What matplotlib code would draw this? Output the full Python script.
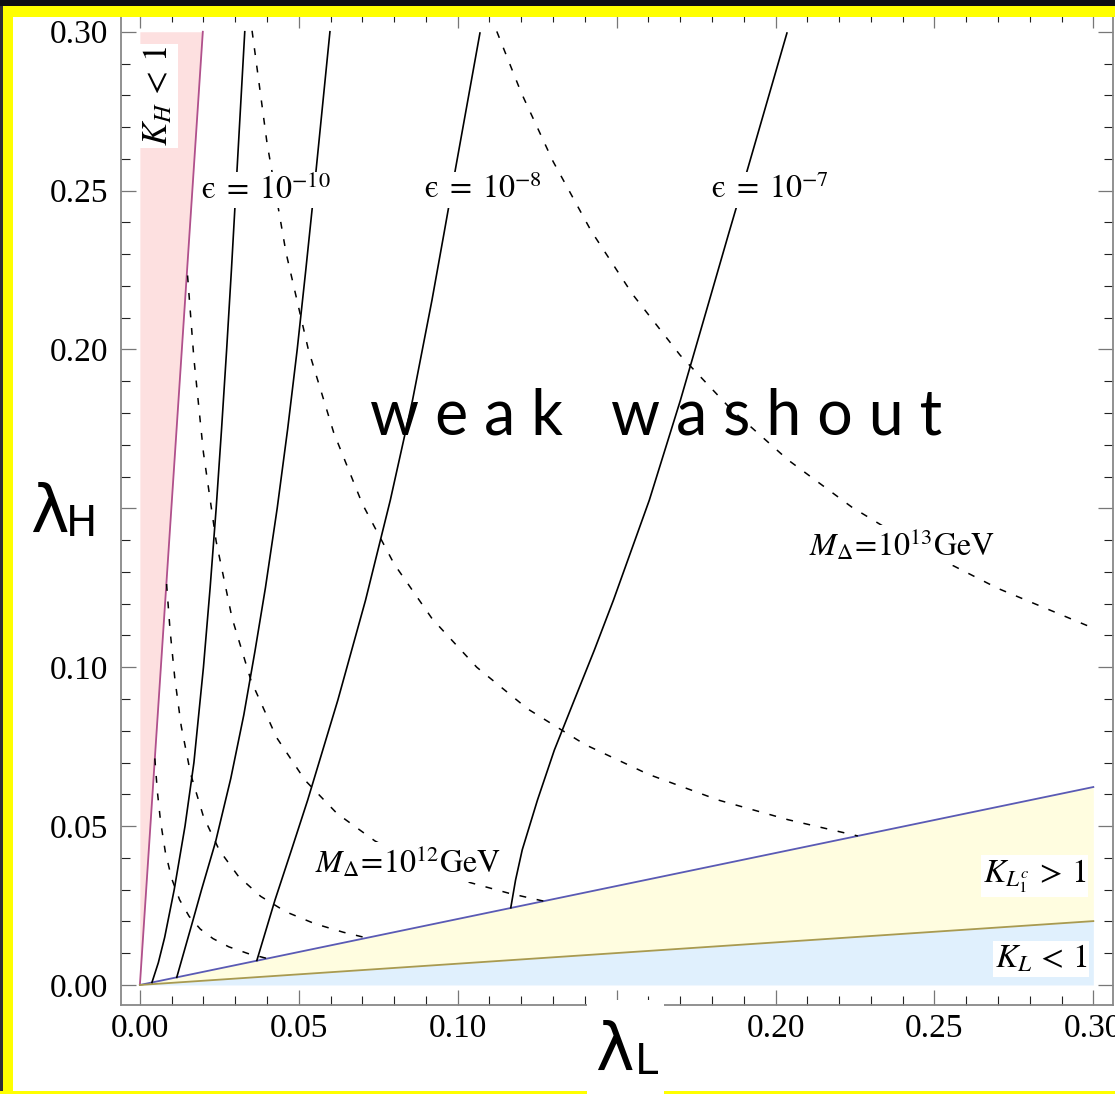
import numpy as np
import matplotlib.pyplot as plt
from matplotlib.patches import Rectangle

# K-factor boundary lines (through the origin)
kh_lam_l = [0.0, 0.0198]
kh_lam_h = [0.0, 0.30]
klc_lam_l = [0.0, 0.30]
klc_lam_h = [0.0, 0.0623]
kl_lam_l = [0.0, 0.30]
kl_lam_h = [0.0, 0.0201]

# epsilon contours (solid)
eps1_l = [0.0038, 0.0058, 0.0078, 0.0108, 0.0142, 0.0170, 0.0200, 0.0221, 0.0240, 0.0257, 0.0273, 0.0288, 0.0302, 0.0316, 0.0330]
eps1_h = [0.0008, 0.0070, 0.0150, 0.0300, 0.0500, 0.0700, 0.1000, 0.1250, 0.1500, 0.1750, 0.2000, 0.2250, 0.2500, 0.2750, 0.3000]
eps2_l = [0.0116, 0.0166, 0.0194, 0.0238, 0.0286, 0.0327, 0.0362, 0.0395, 0.0432, 0.0465, 0.0495, 0.0522, 0.0548, 0.0573, 0.0598]
eps2_h = [0.0024, 0.0200, 0.0300, 0.0450, 0.0650, 0.0850, 0.1050, 0.1250, 0.1500, 0.1750, 0.2000, 0.2250, 0.2500, 0.2750, 0.3000]
eps3_l = [0.0368, 0.0425, 0.0477, 0.0528, 0.0623, 0.0710, 0.0788, 0.0858, 0.0919, 0.0957, 0.0994, 0.1032, 0.1070]
eps3_h = [0.0077, 0.0267, 0.0425, 0.0582, 0.0897, 0.1211, 0.1526, 0.1841, 0.2155, 0.2366, 0.2574, 0.2785, 0.2996]
eps4_l = [0.1167, 0.1182, 0.1203, 0.1251, 0.1304, 0.1367, 0.1430, 0.1490, 0.1603, 0.1701, 0.1792, 0.1853, 0.1914, 0.1975, 0.2036]
eps4_h = [0.0243, 0.0330, 0.0425, 0.0582, 0.0739, 0.0897, 0.1054, 0.1211, 0.1526, 0.1841, 0.2155, 0.2366, 0.2574, 0.2785, 0.2996]
eps_labels = [r'$\mathrm{ϵ}\;=\;10^{-10}$', r'$\mathrm{ϵ}\;=\;10^{-8}$', r'$\mathrm{ϵ}\;=\;10^{-7}$']
eps_label_l = [0.0396, 0.1079, 0.1982]
eps_label_h = [0.2502, 0.2502, 0.2502]

# M_Delta contours (dashed)
m1_l = [0.0047, 0.0055, 0.0065, 0.0080, 0.0100, 0.0125, 0.0155, 0.0190, 0.0230, 0.0280, 0.0340, 0.0402]
m1_h = [0.0713, 0.0609, 0.0515, 0.0419, 0.0335, 0.0268, 0.0216, 0.0176, 0.0146, 0.0120, 0.0099, 0.0083]
m2_l = [0.0084, 0.0095, 0.0110, 0.0130, 0.0160, 0.0200, 0.0250, 0.0310, 0.0380, 0.0460, 0.0550, 0.0640, 0.0714]
m2_h = [0.1262, 0.1116, 0.0964, 0.0815, 0.0663, 0.0530, 0.0424, 0.0342, 0.0279, 0.0230, 0.0193, 0.0166, 0.0148]
m3_l = [0.0150, 0.0170, 0.0200, 0.0240, 0.0290, 0.0350, 0.0430, 0.0520, 0.0620, 0.0740, 0.0880, 0.1040, 0.1160, 0.1270]
m3_h = [0.2233, 0.1971, 0.1675, 0.1396, 0.1155, 0.0957, 0.0779, 0.0644, 0.0540, 0.0453, 0.0381, 0.0322, 0.0289, 0.0264]
m4_l = [0.0353, 0.0400, 0.0460, 0.0530, 0.0610, 0.0700, 0.0800, 0.0920, 0.1060, 0.1220, 0.1400, 0.1600, 0.1820, 0.2040, 0.2259]
m4_h = [0.3003, 0.2650, 0.2304, 0.2000, 0.1738, 0.1514, 0.1325, 0.1152, 0.1000, 0.0869, 0.0757, 0.0663, 0.0582, 0.0520, 0.0469]
m5_l = [0.1123, 0.1200, 0.1300, 0.1420, 0.1550, 0.1700, 0.1860, 0.2040, 0.2240, 0.2460, 0.2700, 0.3000]
m5_h = [0.3001, 0.2808, 0.2592, 0.2373, 0.2174, 0.1982, 0.1812, 0.1652, 0.1504, 0.1370, 0.1248, 0.1123]
m_labels = [r'$M_{\Delta}\!=\!10^{12}\mathrm{GeV}$', r'$M_{\Delta}\!=\!10^{13}\mathrm{GeV}$']
m_label_l = [0.0843, 0.2398]
m_label_h = [0.0387, 0.1385]

xticks = [0.00, 0.05, 0.10, 0.15, 0.20, 0.25, 0.30]
yticks = [0.00, 0.05, 0.10, 0.15, 0.20, 0.25, 0.30]
# the 0.15 labels sit under the axis titles in the original
xticklabels = ['0.00', '0.05', '0.10', '', '0.20', '0.25', '0.30']
yticklabels = ['0.00', '0.05', '0.10', '', '0.20', '0.25', '0.30']

W, H = 1115, 1094


def fx(px):
    return px / W


def fy(py):
    return 1 - py / H


plt.rcParams['font.family'] = ['Liberation Serif', 'DejaVu Serif']
plt.rcParams['mathtext.fontset'] = 'stix'

fig = plt.figure(figsize=(W / 100, H / 100), dpi=100)
fig.patch.set_facecolor('white')
ax = fig.add_axes([fx(120.5), fy(1005), fx(1112.7) - fx(120.5), fy(13) - fy(1005)])
ax.set_xlim(-0.0061, 0.3061)
ax.set_ylim(-0.0063, 0.3059)

# shaded regions
ax.fill_betweenx(kh_lam_h, 0, kh_lam_l, color='#fde0e0', lw=0, zorder=1)
ax.fill_between(klc_lam_l, kl_lam_h, klc_lam_h, color='#fffde0', lw=0, zorder=1)
ax.fill_between(kl_lam_l, 0, kl_lam_h, color='#e0f0fd', lw=0, zorder=1)
ax.plot(kh_lam_l, kh_lam_h, color='#b0508c', lw=1.3, zorder=3)
ax.plot(klc_lam_l, klc_lam_h, color='#5a5ab4', lw=1.3, zorder=3)
ax.plot(kl_lam_l, kl_lam_h, color='#a89a50', lw=1.3, zorder=3)

# epsilon contours
for xs, ys in [(eps1_l, eps1_h), (eps2_l, eps2_h), (eps3_l, eps3_h), (eps4_l, eps4_h)]:
    ax.plot(xs, ys, color='black', lw=1.2, zorder=4)

# M_Delta contours
for xs, ys in [(m1_l, m1_h), (m2_l, m2_h), (m3_l, m3_h), (m4_l, m4_h), (m5_l, m5_h)]:
    ax.plot(xs, ys, color='black', lw=1.1, linestyle=(0, (4.5, 7)), zorder=4)

box = dict(facecolor='white', edgecolor='none', pad=1.5)
for lab, xl, yl in zip(eps_labels, eps_label_l, eps_label_h):
    ax.text(xl, yl, lab, fontsize=23, ha='center', va='center', bbox=box, zorder=6)
for lab, xl, yl in zip(m_labels, m_label_l, m_label_h):
    ax.text(xl, yl, lab, fontsize=23, ha='center', va='center', bbox=box, zorder=6)

ax.text(0.0060, 0.2797, r'$K_H\, <\, 1$', fontsize=25, rotation=90, ha='center', va='center', bbox=box, zorder=6)
ax.text(0.2816, 0.0343, r'$K_{L_1^c}\, >\, 1$', fontsize=24, ha='center', va='center', bbox=box, zorder=6)
ax.text(0.2835, 0.0082, r'$K_L\, <\, 1$', fontsize=24, ha='center', va='center', bbox=box, zorder=6)

ax.text(0.1624, 0.1731, 'w e a k   w a s h o u t', fontsize=45, family='Lato',
        ha='center', va='baseline', zorder=5)

# frame and ticks, Mathematica style
ax.set_xticks(xticks)
ax.set_yticks(yticks)
ax.set_xticklabels(xticklabels)
ax.set_yticklabels(yticklabels)
ax.set_xticks(np.arange(0, 0.3001, 0.01), minor=True)
ax.set_yticks(np.arange(0, 0.3001, 0.01), minor=True)
ax.tick_params(which='both', direction='in', top=True, right=True, labelsize=24)
ax.tick_params(which='major', length=10.8, width=0.9, color='#777777')
ax.tick_params(which='minor', length=6.2, width=0.8, color='#222222')
ax.tick_params(axis='x', pad=6)
ax.tick_params(axis='y', pad=9)
for sp in ax.spines.values():
    sp.set_color('#888888')
    sp.set_linewidth(1.3)


# border of the screenshot
def band(px0, py0, px1, py1, color, z=10):
    fig.add_artist(Rectangle((fx(px0), fy(py1)), fx(px1) - fx(px0), fy(py0) - fy(py1),
                             transform=fig.transFigure, facecolor=color, edgecolor='none', zorder=z))


band(0, 0, 3.3, H, '#2e2e38')
band(3.3, 6, 13.3, H, '#ffff00')
band(0, 1091, W, H, '#ffff00')
band(3.3, 6, W, 17, '#ffff00')
band(0, 0, W, 6, '#0e0e14', z=11)

# axis labels
band(587, 1000, 664, H, 'white', z=12)
fig.text(fx(595), fy(1070), 'λ', fontsize=47, family='DejaVu Sans', ha='left', va='baseline', zorder=13)
fig.text(fx(635), fy(1074), 'L', fontsize=30, family='DejaVu Sans', ha='left', va='baseline', zorder=13)
fig.text(fx(30), fy(532), 'λ', fontsize=47, family='DejaVu Sans', ha='left', va='baseline', zorder=13)
fig.text(fx(66), fy(536), 'H', fontsize=30, family='DejaVu Sans', ha='left', va='baseline', zorder=13)

fig.savefig('out.png', dpi=100)
